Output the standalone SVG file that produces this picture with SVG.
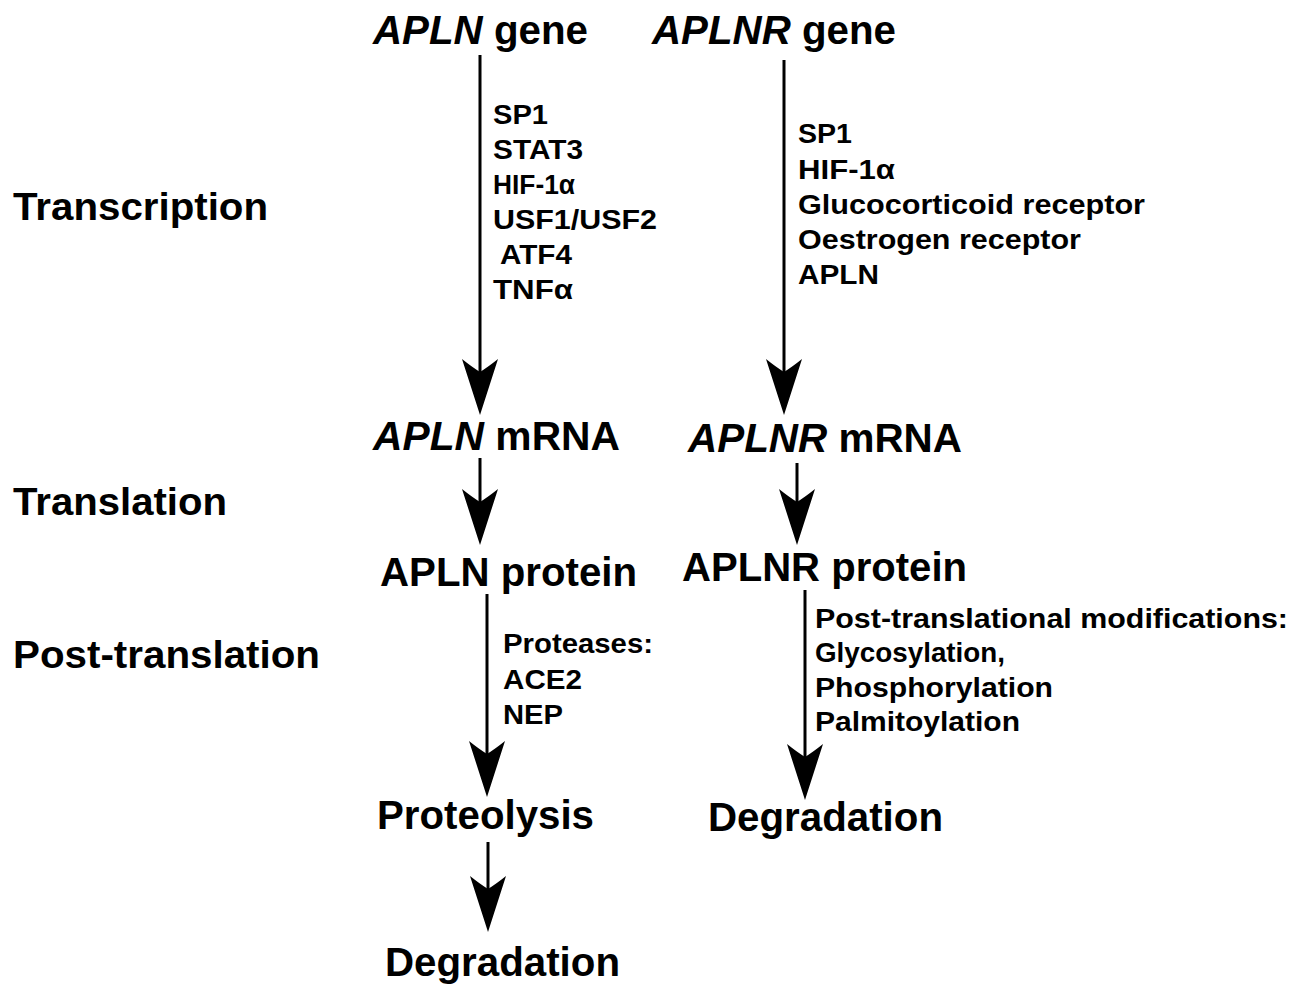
<svg xmlns="http://www.w3.org/2000/svg" width="1300" height="1000" viewBox="0 0 1300 1000">
<defs>
<style>
text{font-family:"Liberation Sans",Arial,sans-serif;font-weight:bold;fill:#000}
.big{font-size:40px}
.sec{font-size:38px}
.lst{font-size:27px}
.it{font-style:italic}
.ln{stroke:#000;stroke-width:3;fill:none}
</style>
<marker id="ah" markerUnits="userSpaceOnUse" markerWidth="60" markerHeight="40" viewBox="0 -20 60 40" refX="36" refY="0" orient="auto">
<path d="M56,0 L0,-18 Q8,-8 13,0 Q8,8 0,18 Z" fill="#000"/>
</marker>
</defs>
<rect width="1300" height="1000" fill="#fff"/>
<g id="section-labels">
<text class="sec" x="13" y="220" textLength="255" lengthAdjust="spacingAndGlyphs">Transcription</text>
<text class="sec" x="13" y="515" textLength="214" lengthAdjust="spacingAndGlyphs">Translation</text>
<text class="sec" x="13" y="668" textLength="307" lengthAdjust="spacingAndGlyphs">Post-translation</text>
</g>
<g id="apln-gene"><text class="big" x="373" y="44" textLength="215" lengthAdjust="spacingAndGlyphs"><tspan class="it">APLN</tspan> gene</text></g>
<g id="aplnr-gene"><text class="big" x="652" y="44" textLength="244" lengthAdjust="spacingAndGlyphs"><tspan class="it">APLNR</tspan> gene</text></g>
<g id="apln-mrna"><text class="big" x="373" y="450" textLength="247" lengthAdjust="spacingAndGlyphs"><tspan class="it">APLN</tspan> mRNA</text></g>
<g id="aplnr-mrna"><text class="big" x="688" y="452" textLength="274" lengthAdjust="spacingAndGlyphs"><tspan class="it">APLNR</tspan> mRNA</text></g>
<g id="apln-protein"><text class="big" x="380" y="586" textLength="257" lengthAdjust="spacingAndGlyphs">APLN protein</text></g>
<g id="aplnr-protein"><text class="big" x="682" y="581" textLength="285" lengthAdjust="spacingAndGlyphs">APLNR protein</text></g>
<g id="proteolysis"><text class="big" x="377" y="829" textLength="217" lengthAdjust="spacingAndGlyphs">Proteolysis</text></g>
<g id="aplnr-degradation"><text class="big" x="708" y="831" textLength="235" lengthAdjust="spacingAndGlyphs">Degradation</text></g>
<g id="apln-degradation"><text class="big" x="385" y="976" textLength="235" lengthAdjust="spacingAndGlyphs">Degradation</text></g>
<g id="connectors">
<line class="ln" x1="480" y1="55" x2="480" y2="395" marker-end="url(#ah)"/>
<line class="ln" x1="784" y1="60" x2="784" y2="395" marker-end="url(#ah)"/>
<line class="ln" x1="480" y1="458" x2="480" y2="525" marker-end="url(#ah)"/>
<line class="ln" x1="797" y1="463" x2="797" y2="525" marker-end="url(#ah)"/>
<line class="ln" x1="487" y1="594" x2="487" y2="777" marker-end="url(#ah)"/>
<line class="ln" x1="805" y1="590" x2="805" y2="780" marker-end="url(#ah)"/>
<line class="ln" x1="488" y1="842" x2="488" y2="912" marker-end="url(#ah)"/>
</g>
<g id="apln-transcription-factors">
<text class="lst" x="493" y="124" textLength="55" lengthAdjust="spacingAndGlyphs">SP1</text>
<text class="lst" x="493" y="159" textLength="90" lengthAdjust="spacingAndGlyphs">STAT3</text>
<text class="lst" x="493" y="194" textLength="82" lengthAdjust="spacingAndGlyphs">HIF-1α</text>
<text class="lst" x="493" y="229" textLength="164" lengthAdjust="spacingAndGlyphs">USF1/USF2</text>
<text class="lst" x="500" y="264" textLength="72" lengthAdjust="spacingAndGlyphs">ATF4</text>
<text class="lst" x="493" y="299" textLength="80" lengthAdjust="spacingAndGlyphs">TNFα</text>
</g>
<g id="aplnr-transcription-factors">
<text class="lst" x="798" y="143" textLength="54" lengthAdjust="spacingAndGlyphs">SP1</text>
<text class="lst" x="798" y="179" textLength="97" lengthAdjust="spacingAndGlyphs">HIF-1α</text>
<text class="lst" x="798" y="214" textLength="347" lengthAdjust="spacingAndGlyphs">Glucocorticoid receptor</text>
<text class="lst" x="798" y="249" textLength="283" lengthAdjust="spacingAndGlyphs">Oestrogen receptor</text>
<text class="lst" x="798" y="284" textLength="81" lengthAdjust="spacingAndGlyphs">APLN</text>
</g>
<g id="proteases">
<text class="lst" x="503" y="653" textLength="150" lengthAdjust="spacingAndGlyphs">Proteases:</text>
<text class="lst" x="503" y="689" textLength="79" lengthAdjust="spacingAndGlyphs">ACE2</text>
<text class="lst" x="503" y="724" textLength="60" lengthAdjust="spacingAndGlyphs">NEP</text>
</g>
<g id="ptm">
<text class="lst" x="815" y="628" textLength="473" lengthAdjust="spacingAndGlyphs">Post-translational modifications:</text>
<text class="lst" x="815" y="662" textLength="190" lengthAdjust="spacingAndGlyphs">Glycosylation,</text>
<text class="lst" x="815" y="697" textLength="238" lengthAdjust="spacingAndGlyphs">Phosphorylation</text>
<text class="lst" x="815" y="731" textLength="205" lengthAdjust="spacingAndGlyphs">Palmitoylation</text>
</g>
</svg>
